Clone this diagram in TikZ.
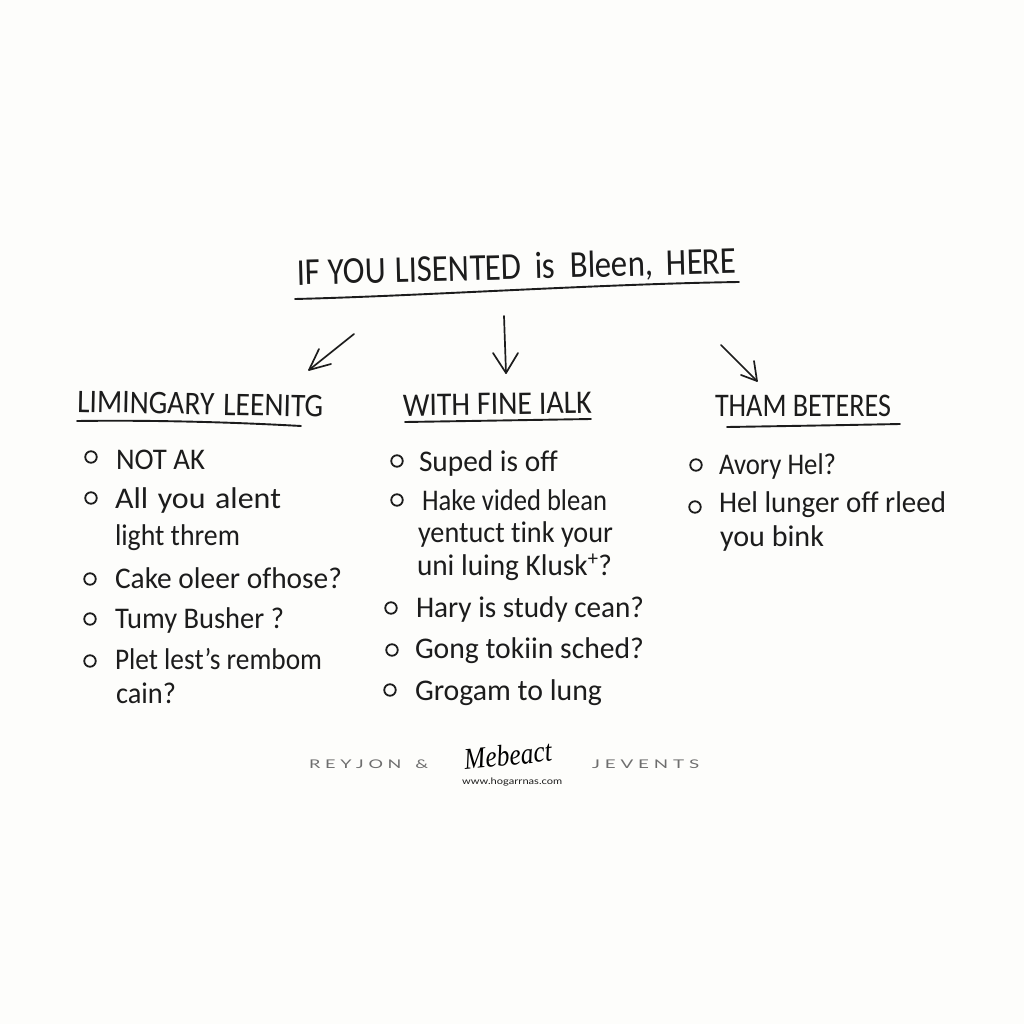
\documentclass[tikz,border=0pt]{standalone}
\usepackage{fontspec}
\usepackage{graphicx}
\setmainfont[Ligatures={NoCommon}]{Carlito}
\newfontfamily\footfont{Lato}
\newfontfamily\signfont{Liberation Serif}
\definecolor{paper}{HTML}{FDFDFB}
\definecolor{ink}{HTML}{1C1C1C}
\definecolor{footgrey}{HTML}{6E6E6E}
\newcommand{\fitw}[2]{\resizebox{#1pt}{\height}{#2}}
\tikzset{
  x=1pt,y=-1pt,
  hand/.style={anchor=base west,inner sep=0pt,outer sep=0pt,text=ink},
  titletext/.style={hand,font=\fontsize{38}{38}\selectfont},
  headtext/.style={hand,font=\fontsize{33}{33}\selectfont},
  itemtext/.style={hand,font=\fontsize{30}{30}\selectfont},
  bulletdot/.style={circle,draw=ink,line width=1.8pt,minimum size=11.5pt,inner sep=0pt},
  rule/.style={draw=ink,line width=1.9pt,line cap=round},
  pointer/.style={draw=ink,line width=1.7pt,line cap=round,line join=round},
  footer/.style={anchor=base west,inner sep=0pt,text=footgrey,font=\footfont\fontsize{12}{12}\selectfont},
}
\begin{document}
\begin{tikzpicture}
\fill[paper] (0,0) rectangle (1024,1024);
\useasboundingbox (0,0) rectangle (1024,1024);

% title
\node[titletext,rotate=1.5] (title) at (297,285) {\fitw{440}{IF\hspace{.25em}YOU\hspace{.3em}LISENTED\hspace{.4em}is\hspace{.45em}Bleen,\hspace{.4em}HERE}};
\coordinate (tl) at (295,299);
\coordinate (tr) at (739,282);
\draw[rule] (tl) .. controls (420,296) and (600,284) .. (tr);

% arrows
\coordinate (a1s) at (354,334); \coordinate (a1e) at (309,370);
\coordinate (a1p) at (331,364); \coordinate (a1q) at (319,349);
\coordinate (a2s) at (504,316); \coordinate (a2e) at (506,373);
\coordinate (a2p) at (493,353); \coordinate (a2q) at (518,353);
\coordinate (a3s) at (721,345); \coordinate (a3e) at (757,381);
\coordinate (a3p) at (741,375); \coordinate (a3q) at (754,361);
\draw[pointer] (a1s) -- (a1e);
\draw[pointer] (a1p) -- (a1e) -- (a1q);
\draw[pointer] (a2s) -- (a2e);
\draw[pointer] (a2p) -- (a2e) -- (a2q);
\draw[pointer] (a3s) -- (a3e);
\draw[pointer] (a3p) -- (a3e) -- (a3q);

% headers
\node[headtext,rotate=-1.2] (h1) at (77,412) {\fitw{246}{LIMINGARY\hspace{.3em}LEENITG}};
\node[headtext,rotate=0.8] (h2) at (403,416) {\fitw{189}{WITH FINE IALK}};
\node[headtext] (h3) at (715,416) {\fitw{176}{THAM BETERES}};
\coordinate (u1l) at (77,421); \coordinate (u1r) at (301,426);
\coordinate (u2l) at (405,422); \coordinate (u2r) at (591,419);
\coordinate (u3l) at (727,427); \coordinate (u3r) at (900,424);
\draw[rule] (u1l) .. controls (150,420) and (230,422) .. (u1r);
\draw[rule] (u2l) .. controls (470,421) and (530,420) .. (u2r);
\draw[rule] (u3l) .. controls (790,426) and (850,425) .. (u3r);

% left column
\node[bulletdot] (b1) at (91,457) {};
\node[bulletdot] (b2) at (91,498) {};
\node[bulletdot] (b3) at (90,579) {};
\node[bulletdot] (b4) at (90,619) {};
\node[bulletdot] (b5) at (90,661) {};
\node[itemtext] (l1) at (116,469) {\fitw{89}{NOT AK}};
\node[itemtext] (l2) at (115,508) {\fitw{166}{All\hspace{.3em}you\hspace{.3em}alent}};
\node[itemtext] (l3) at (115,545) {\fitw{125}{light threm}};
\node[itemtext] (l4) at (115,588) {\fitw{227}{Cake oleer ofhose?}};
\node[itemtext] (l5) at (115,628) {\fitw{169}{Tumy Busher ?}};
\node[itemtext] (l6) at (115,669) {\fitw{207}{Plet lest's rembom}};
\node[itemtext] (l7) at (116,703) {\fitw{60}{cain?}};

% middle column
\node[bulletdot] (m1) at (397,461) {};
\node[bulletdot] (m2) at (397,500) {};
\node[bulletdot] (m3) at (391,608) {};
\node[bulletdot] (m4) at (392,650) {};
\node[bulletdot] (m5) at (390,690) {};
\node[itemtext] (c1) at (419,471) {\fitw{139}{Suped is off}};
\node[itemtext] (c2) at (422,510) {\fitw{185}{Hake vided blean}};
\node[itemtext] (c3) at (418,542) {\fitw{195}{yentuct tink your}};
\node[itemtext] (c4) at (417,575) {\fitw{195}{uni luing Klusk\textsuperscript{+}?}};
\node[itemtext] (c5) at (416,617) {\fitw{228}{Hary is study cean?}};
\node[itemtext] (c6) at (415,658) {\fitw{229}{Gong tokiin sched?}};
\node[itemtext] (c7) at (415,700) {\fitw{187}{Grogam to lung}};

% right column
\node[bulletdot] (r1) at (696,465) {};
\node[bulletdot] (r2) at (695,507) {};
\node[itemtext] (q1) at (719,474) {\fitw{117}{Avory Hel?}};
\node[itemtext] (q2) at (719,512) {\fitw{227}{Hel lunger off rleed}};
\node[itemtext] (q3) at (720,546) {\fitw{104}{you bink}};

% footer
\node[footer] (f1) at (309,768) {\fitw{119}{R E Y J O N \ \ \&}};
\node[footer] (f2) at (592,768) {\fitw{107}{J E V E N T S}};
\node[anchor=base west,inner sep=0pt,text=black,rotate=6,font=\signfont\itshape\fontsize{30}{30}\selectfont] (sig) at (465,770) {\fitw{88}{Mebeact}};
\node[footer,text=ink,font=\footfont\fontsize{9}{9}\selectfont] (url) at (462,784) {\fitw{100}{www.hogarrnas.com}};
\end{tikzpicture}
\end{document}
